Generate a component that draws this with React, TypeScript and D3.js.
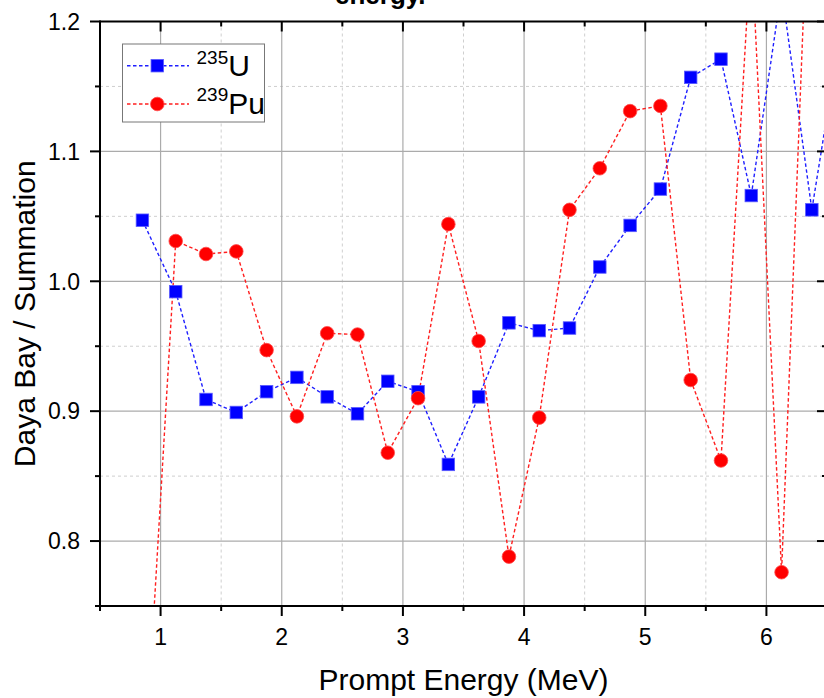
import React, { useEffect, useRef } from 'react';
import * as d3 from 'd3';

// prompt energy bin centres (MeV)
const energies = [0.85, 1.125, 1.375, 1.625, 1.875, 2.125, 2.375, 2.625, 2.875, 3.125, 3.375, 3.625,
  3.875, 4.125, 4.375, 4.625, 4.875, 5.125, 5.375, 5.625, 5.875, 6.125, 6.375, 6.625];

// Daya Bay / Summation ratios
const u235 = [1.047, 0.992, 0.909, 0.899, 0.915, 0.926, 0.911, 0.898, 0.923, 0.915, 0.859, 0.911,
  0.968, 0.962, 0.964, 1.011, 1.043, 1.071, 1.157, 1.171, 1.066, 1.225, 1.055, 1.20];
const pu239 = [0.595, 1.031, 1.021, 1.023, 0.947, 0.896, 0.960, 0.959, 0.868, 0.910, 1.044, 0.954,
  0.788, 0.895, 1.055, 1.087, 1.131, 1.135, 0.924, 0.862, 1.26, 0.776, 1.37];

const xMajor = [1, 2, 3, 4, 5, 6];
const xMinor = [0.5, 1.5, 2.5, 3.5, 4.5, 5.5, 6.5];
const yMajor = [0.8, 0.9, 1.0, 1.1, 1.2];
const yMinor = [0.75, 0.85, 0.95, 1.05, 1.15];
const yLabels = ['0.8', '0.9', '1.0', '1.1', '1.2'];

const FONT = "'Liberation Sans', Arial, sans-serif";

const App = () => {
  const svgRef = useRef<SVGSVGElement>(null);

  useEffect(() => {
    const svg = d3.select(svgRef.current);
    svg.selectAll('*').remove();

    const left = 100, right = 827, top = 21.5, bottom = 606;

    const x = d3.scaleLinear().domain([0.5, 6.5]).range([left, right]);
    const y = d3.scaleLinear().domain([0.75, 1.2]).range([bottom, top]);

    svg.append('defs').append('clipPath').attr('id', 'plotclip')
      .append('rect').attr('x', left).attr('y', top)
      .attr('width', right - left).attr('height', bottom - top);

    // grid
    const grid = svg.append('g');
    grid.selectAll('.gxm').data(xMinor).enter().append('line')
      .attr('x1', d => x(d)).attr('x2', d => x(d)).attr('y1', top).attr('y2', bottom)
      .attr('stroke', '#cfcfcf').attr('stroke-dasharray', '3,3').attr('stroke-width', 1);
    grid.selectAll('.gym').data(yMinor).enter().append('line')
      .attr('x1', left).attr('x2', right).attr('y1', d => y(d)).attr('y2', d => y(d))
      .attr('stroke', '#cfcfcf').attr('stroke-dasharray', '3,3').attr('stroke-width', 1);
    grid.selectAll('.gx').data(xMajor).enter().append('line')
      .attr('x1', d => x(d)).attr('x2', d => x(d)).attr('y1', top).attr('y2', bottom)
      .attr('stroke', '#ababab').attr('stroke-width', 1.2);
    grid.selectAll('.gy').data(yMajor.slice(0, 4)).enter().append('line')
      .attr('x1', left).attr('x2', right).attr('y1', d => y(d)).attr('y2', d => y(d))
      .attr('stroke', '#ababab').attr('stroke-width', 1.2);

    // series
    const plot = svg.append('g').attr('clip-path', 'url(#plotclip)');
    const line = d3.line<[number, number]>().x(d => x(d[0])).y(d => y(d[1]));

    const uPts: [number, number][] = u235.map((v, i) => [energies[i], v]);
    const pPts: [number, number][] = pu239.map((v, i) => [energies[i], v]);

    plot.append('path').attr('d', line(uPts)).attr('fill', 'none')
      .attr('stroke', '#1f1fff').attr('stroke-width', 1.4).attr('stroke-dasharray', '3.5,2.5');
    plot.append('path').attr('d', line(pPts)).attr('fill', 'none')
      .attr('stroke', '#ff1f1f').attr('stroke-width', 1.4).attr('stroke-dasharray', '3.5,2.5');

    const sq = 12.5;
    plot.selectAll('.usq').data(uPts).enter().append('rect')
      .attr('x', d => x(d[0]) - sq / 2).attr('y', d => y(d[1]) - sq / 2)
      .attr('width', sq).attr('height', sq)
      .attr('fill', '#0000ff').attr('stroke', '#5a5aff').attr('stroke-width', 0.8);
    plot.selectAll('.pc').data(pPts).enter().append('circle')
      .attr('cx', d => x(d[0])).attr('cy', d => y(d[1])).attr('r', 6.8)
      .attr('fill', '#ff0000').attr('stroke', '#ff4a4a').attr('stroke-width', 0.8);

    // axes frame
    const axes = svg.append('g').attr('stroke', '#000').attr('stroke-width', 2);
    axes.append('line').attr('x1', left).attr('x2', right + 1).attr('y1', top).attr('y2', top);
    axes.append('line').attr('x1', left - 1).attr('x2', right + 1).attr('y1', bottom).attr('y2', bottom);
    axes.append('line').attr('x1', left).attr('x2', left).attr('y1', top - 1).attr('y2', bottom + 1);
    axes.append('line').attr('x1', right).attr('x2', right).attr('y1', top - 1).attr('y2', bottom + 1);

    // bottom ticks (outward) and top ticks (inward)
    axes.selectAll('.bx').data(xMajor).enter().append('line')
      .attr('x1', d => x(d)).attr('x2', d => x(d)).attr('y1', bottom).attr('y2', bottom + 10);
    axes.selectAll('.bxm').data(xMinor).enter().append('line')
      .attr('x1', d => x(d)).attr('x2', d => x(d)).attr('y1', bottom).attr('y2', bottom + 5);
    axes.selectAll('.tx').data(xMajor).enter().append('line')
      .attr('x1', d => x(d)).attr('x2', d => x(d)).attr('y1', top).attr('y2', top + 10);
    axes.selectAll('.txm').data(xMinor).enter().append('line')
      .attr('x1', d => x(d)).attr('x2', d => x(d)).attr('y1', top).attr('y2', top + 5);

    // left ticks (outward) and right ticks (inward)
    axes.selectAll('.ly').data(yMajor).enter().append('line')
      .attr('x1', left - 10).attr('x2', left).attr('y1', d => y(d)).attr('y2', d => y(d));
    axes.selectAll('.lym').data(yMinor).enter().append('line')
      .attr('x1', left - 5).attr('x2', left).attr('y1', d => y(d)).attr('y2', d => y(d));
    axes.selectAll('.ry').data(yMajor).enter().append('line')
      .attr('x1', right - 10).attr('x2', right).attr('y1', d => y(d)).attr('y2', d => y(d));
    axes.selectAll('.rym').data(yMinor).enter().append('line')
      .attr('x1', right - 5).attr('x2', right).attr('y1', d => y(d)).attr('y2', d => y(d));

    // tick labels
    svg.append('g').selectAll('text').data(xMajor).enter().append('text')
      .attr('x', d => x(d)).attr('y', 645).attr('text-anchor', 'middle')
      .attr('font-family', FONT).attr('font-size', 23).attr('fill', '#000')
      .text(d => String(d));
    svg.append('g').selectAll('text').data(yMajor).enter().append('text')
      .attr('x', 80).attr('y', d => y(d)).attr('dy', '0.36em').attr('text-anchor', 'end')
      .attr('font-family', FONT).attr('font-size', 23).attr('fill', '#000')
      .text((d, i) => yLabels[i]);

    // axis titles
    svg.append('text').attr('x', (left + right) / 2).attr('y', 690).attr('text-anchor', 'middle')
      .attr('font-family', FONT).attr('font-size', 30).attr('fill', '#000')
      .text('Prompt Energy (MeV)');
    svg.append('text').attr('transform', `translate(35,${(top + bottom) / 2}) rotate(-90)`)
      .attr('text-anchor', 'middle')
      .attr('font-family', FONT).attr('font-size', 30).attr('fill', '#000')
      .text('Daya Bay / Summation');

    // title remnant at the top
    svg.append('text').attr('x', 335).attr('y', 4)
      .attr('font-family', FONT).attr('font-size', 26).attr('font-weight', 'bold').attr('fill', '#000')
      .text('energy.');

    // legend
    const lg = svg.append('g');
    lg.append('rect').attr('x', 122.5).attr('y', 44).attr('width', 142).attr('height', 78)
      .attr('fill', '#fff').attr('stroke', '#777').attr('stroke-width', 1);
    lg.append('line').attr('x1', 127).attr('x2', 189).attr('y1', 65.7).attr('y2', 65.7)
      .attr('stroke', '#1f1fff').attr('stroke-width', 1.4).attr('stroke-dasharray', '3.5,2.5');
    lg.append('rect').attr('x', 157.3 - sq / 2).attr('y', 65.7 - sq / 2).attr('width', sq).attr('height', sq)
      .attr('fill', '#0000ff').attr('stroke', '#5a5aff').attr('stroke-width', 0.8);
    lg.append('line').attr('x1', 127).attr('x2', 189).attr('y1', 104).attr('y2', 104)
      .attr('stroke', '#ff1f1f').attr('stroke-width', 1.4).attr('stroke-dasharray', '3.5,2.5');
    lg.append('circle').attr('cx', 157.3).attr('cy', 104).attr('r', 6.8)
      .attr('fill', '#ff0000').attr('stroke', '#ff4a4a').attr('stroke-width', 0.8);

    const t1 = lg.append('text').attr('x', 196.5).attr('y', 76)
      .attr('font-family', FONT).attr('font-size', 30).attr('fill', '#000');
    t1.append('tspan').attr('font-size', 19).attr('dy', -12.5).text('235');
    t1.append('tspan').attr('dy', 12.5).text('U');
    const t2 = lg.append('text').attr('x', 196.5).attr('y', 113.5)
      .attr('font-family', FONT).attr('font-size', 30).attr('fill', '#000');
    t2.append('tspan').attr('font-size', 19).attr('dy', -12.5).text('239');
    t2.append('tspan').attr('dy', 12.5).text('Pu');
  }, []);

  return (
    <svg ref={svgRef} width={824} height={698}
      style={{ position: 'absolute', left: 0, top: 0, display: 'block', background: '#fff' }} />
  );
};

export default App;
